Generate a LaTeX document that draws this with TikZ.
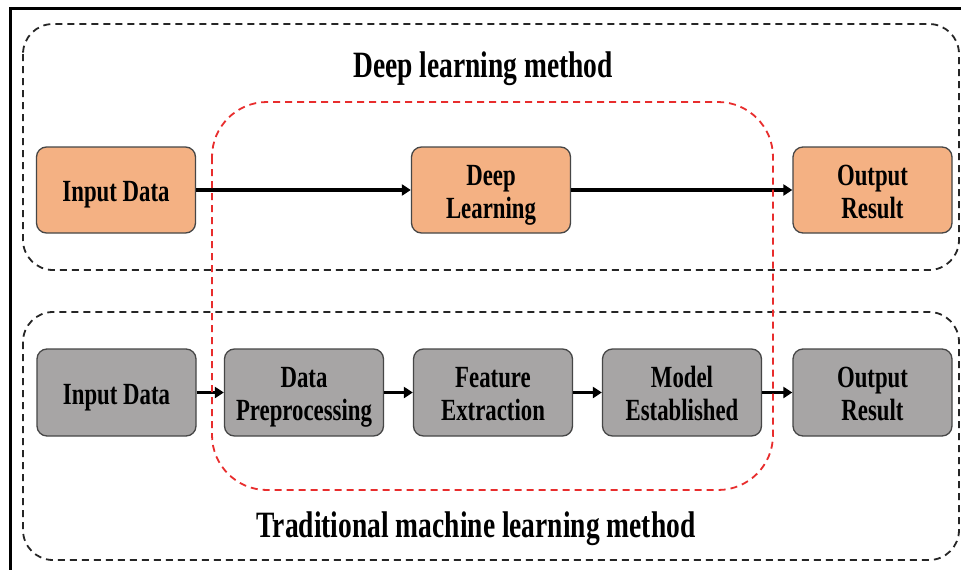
\documentclass[tikz,border=0pt]{standalone}
\usepackage{fontspec}
\usepackage{graphicx}
\setmainfont{Liberation Serif}
\usetikzlibrary{arrows.meta}
\definecolor{orangefill}{RGB}{244,177,131}
\definecolor{grayfill}{RGB}{167,165,165}
\definecolor{boxline}{RGB}{70,70,70}
\definecolor{reddash}{RGB}{232,45,45}
\newcommand\stxt[2]{\scalebox{1}[1.35]{\fontsize{#1}{24.4}\selectfont\bfseries\begin{tabular}{@{}c@{}}#2\end{tabular}}}
\newcommand\btxt[1]{\raisebox{-5pt}[\height][\depth]{\stxt{22.8}{#1}}}
\tikzset{
  procbox/.style={draw=boxline, line width=1.3pt, rounded corners=10pt,
    minimum width=159pt, minimum height=86pt, inner sep=0pt, align=center},
  orangebox/.style={procbox, fill=orangefill},
  graybox/.style={procbox, fill=grayfill},
  arr/.style={line width=3.2pt, -{Triangle[length=9pt,width=11pt]}},
  groupbox/.style={draw=black!85, line width=1.8pt, dash pattern=on 7pt off 5pt, rounded corners=30pt},
  redbox/.style={draw=reddash, line width=1.8pt, dash pattern=on 7pt off 5pt, rounded corners=55pt},
  titletext/.style={anchor=base, inner sep=0pt}
}
\begin{document}
\begin{tikzpicture}[x=1pt,y=-1pt]
\useasboundingbox (0,0) rectangle (961,570);
\fill[white] (0,0) rectangle (961,570);
% outer frame (left and top edges)
\draw[line width=3pt] (10.5,570) -- (10.5,8.5) -- (961,8.5);
% group boxes
\draw[groupbox] (23,24) rectangle (959,270);
\draw[groupbox] (23,312) rectangle (959,560);
% titles
\node[titletext] (t1) at (483,78) {\stxt{27.5}{Deep learning method}};
\node[titletext] (t2) at (476,538) {\stxt{27.5}{Traditional machine learning method}};
% top row
\node[orangebox] (in1) at (116,190) {\btxt{Input Data}};
\node[orangebox] (dl) at (491,190) {\btxt{Deep\\Learning}};
\node[orangebox] (out1) at (872.5,190) {\btxt{Output\\Result}};
% bottom row
\node[graybox, minimum height=87pt] (in2) at (116.5,392.5) {\btxt{Input Data}};
\node[graybox, minimum height=87pt] (dp) at (304,392.5) {\btxt{Data\\Preprocessing}};
\node[graybox, minimum height=87pt] (fe) at (493,392.5) {\btxt{Feature\\Extraction}};
\node[graybox, minimum height=87pt] (me) at (682,392.5) {\btxt{Model\\Established}};
\node[graybox, minimum height=87pt] (out2) at (872.5,392.5) {\btxt{Output\\Result}};
% arrows
\draw[arr] (in1) -- (dl);
\draw[arr] (dl) -- (out1);
\draw[arr] (in2) -- (dp);
\draw[arr] (dp) -- (fe);
\draw[arr] (fe) -- (me);
\draw[arr] (me) -- (out2);
% red dashed region
\draw[redbox] (212,102) rectangle (773,490);
\end{tikzpicture}
\end{document}
